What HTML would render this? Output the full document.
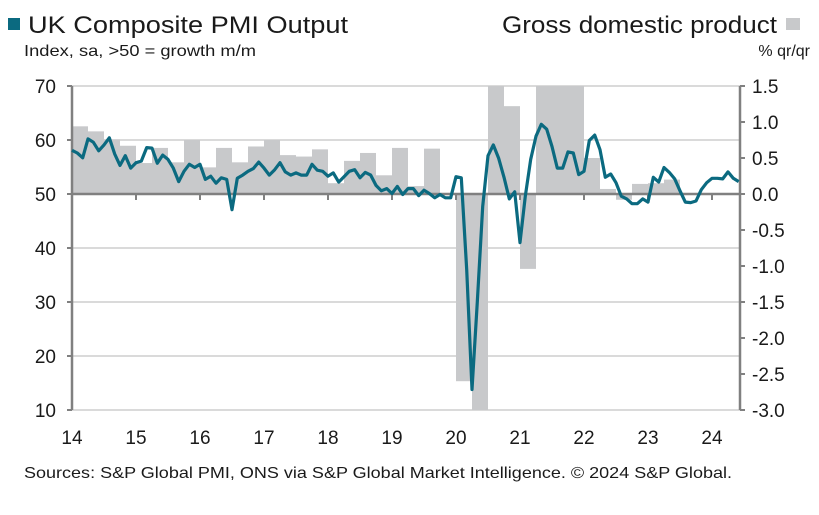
<!DOCTYPE html>
<html><head><meta charset="utf-8"><style>
html,body{margin:0;padding:0;background:#fff;}
svg{display:block;font-family:"Liberation Sans",sans-serif;}
</style></head><body>
<svg id="chart" width="819" height="515" viewBox="0 0 819 515" xmlns="http://www.w3.org/2000/svg">
<rect x="8" y="18" width="12" height="12" fill="#0b6a80"/>
<text x="28" y="33" font-size="24" fill="#1a1a1a" textLength="320" lengthAdjust="spacingAndGlyphs">UK Composite PMI Output</text>
<text x="502" y="33" font-size="24" fill="#1a1a1a" textLength="275" lengthAdjust="spacingAndGlyphs">Gross domestic product</text>
<rect x="786" y="18" width="14" height="12" fill="#c8c9cb"/>
<text x="24" y="56" font-size="16" fill="#1a1a1a" textLength="232" lengthAdjust="spacingAndGlyphs">Index, sa, &gt;50 = growth m/m</text>
<text x="810" y="56" font-size="16" fill="#1a1a1a" text-anchor="end">% qr/qr</text>
<g id="grid"></g><g id="bars"></g><g id="axes"></g><g id="line"></g>
<text x="24" y="478" font-size="16" fill="#1a1a1a" textLength="708" lengthAdjust="spacingAndGlyphs">Sources: S&amp;P Global PMI, ONS via S&amp;P Global Market Intelligence. © 2024 S&amp;P Global.</text>
</svg>
<script>
const years = ["14","15","16","17","18","19","20","21","22","23","24"];
const leftTicks = [70,60,50,40,30,20,10];
const rightTicks = ["1.5","1.0","0.5","0.0","-0.5","-1.0","-1.5","-2.0","-2.5","-3.0"];
const gdp = [0.94,0.87,0.76,0.67, 0.43,0.64,0.44,0.75, 0.37,0.64,0.44,0.66, 0.75,0.54,0.52,0.62, 0.15,0.46,0.57,0.26, 0.64,0.11,0.63,0.0, -2.6,-19,16,1.22, -1.04,6,2,1.6, 0.5,0.07,-0.08,0.14, 0.15,0.2,0,0, 0,0];
const pmi = [58.1,57.6,56.7,60.2,59.6,58.0,59.1,60.4,57.4,55.3,57.1,54.8,
55.8,56.1,58.6,58.5,55.7,57.2,56.4,54.8,52.3,54.2,55.5,54.9,
55.5,52.7,53.3,52.0,53.0,52.7,47.1,52.9,53.5,54.2,54.7,55.9,
54.8,53.5,54.5,55.8,54.1,53.5,53.9,53.5,53.5,55.5,54.4,54.2,
53.3,53.9,52.2,53.2,54.2,54.5,53.0,54.0,53.5,51.6,50.6,51.0,
50.1,51.4,49.9,51.0,51.0,49.7,50.7,50.1,49.3,49.9,49.3,49.3,
53.2,53.0,36.0,13.8,30.0,47.7,57.1,59.1,56.6,53.1,49.1,50.4,
41.0,49.6,56.4,60.7,62.9,62.0,58.8,54.8,54.8,57.8,57.6,53.6,
54.2,59.9,60.9,58.2,53.1,53.7,52.1,49.6,49.1,48.2,48.2,49.1,
48.5,53.1,52.2,54.9,54.0,52.8,50.6,48.5,48.4,48.7,50.8,52.1,
52.9,52.9,52.8,54.1,52.9,52.3];
const NS="http://www.w3.org/2000/svg";
const X0=72, X1=740, YT=86, YB=410, MON=64/12;
const yL=v=>194-(v-50)*5.4;
const yR=v=>194-v*72;
const xM=n=>X0+n*MON;
function mk(tag,attrs,parent,txt){const e=document.createElementNS(NS,tag);for(const k in attrs)e.setAttribute(k,attrs[k]);if(txt!==undefined)e.textContent=txt;parent.appendChild(e);return e;}
const grid=document.getElementById('grid'),bars=document.getElementById('bars'),axes=document.getElementById('axes'),line=document.getElementById('line');
leftTicks.forEach(v=>{
  if(v!==50){const g=mk('line',{x1:X0,x2:X1,y1:yL(v),y2:yL(v),stroke:'#c4c4c4','stroke-width':1.2},grid);
  
  }
  const t=mk('text',{x:56,y:yL(v)+7,'font-size':19,'text-anchor':'end',fill:'#1a1a1a'},axes,String(v));
  
  
  mk('line',{x1:X0-5,x2:X0,y1:yL(v),y2:yL(v),stroke:'#808080','stroke-width':2},axes);
});
rightTicks.forEach(s=>{
  const v=parseFloat(s);
  const t=mk('text',{x:752,y:yR(v)+7,'font-size':19,fill:'#1a1a1a'},axes,s);
  
  
  mk('line',{x1:X1,x2:X1+5,y1:yR(v),y2:yR(v),stroke:'#808080','stroke-width':2},axes);
});
gdp.forEach((v,i)=>{
  const vv=Math.max(-3,Math.min(1.5,v));
  const y0=yR(0),y1=yR(vv);
  const r=mk('rect',{x:X0+i*16,y:Math.min(y0,y1),width:16,height:Math.abs(y1-y0),fill:'#c8c9cb'},bars);
  
  
});
mk('line',{x1:X0,x2:X0,y1:YT,y2:YB,stroke:'#808080','stroke-width':2.5},axes);
mk('line',{x1:X1,x2:X1,y1:YT,y2:YB,stroke:'#808080','stroke-width':2.5},axes);
const zl=mk('line',{x1:X0,x2:X1,y1:194,y2:194,stroke:'#808080','stroke-width':2.5},axes);


years.forEach((y,i)=>{
  const x=X0+i*64;
  mk('line',{x1:x,x2:x,y1:194,y2:200,stroke:'#808080','stroke-width':2},axes);
  const t=mk('text',{x:x,y:444,'font-size':19,'text-anchor':'middle',fill:'#1a1a1a'},axes,y);
  
  
});
const p=mk('polyline',{points:pmi.map((v,i)=>xM(i).toFixed(1)+','+yL(v).toFixed(1)).join(' '),fill:'none',stroke:'#0b6a80','stroke-width':3.2,'stroke-linejoin':'round'},line);


</script>
</body></html>
